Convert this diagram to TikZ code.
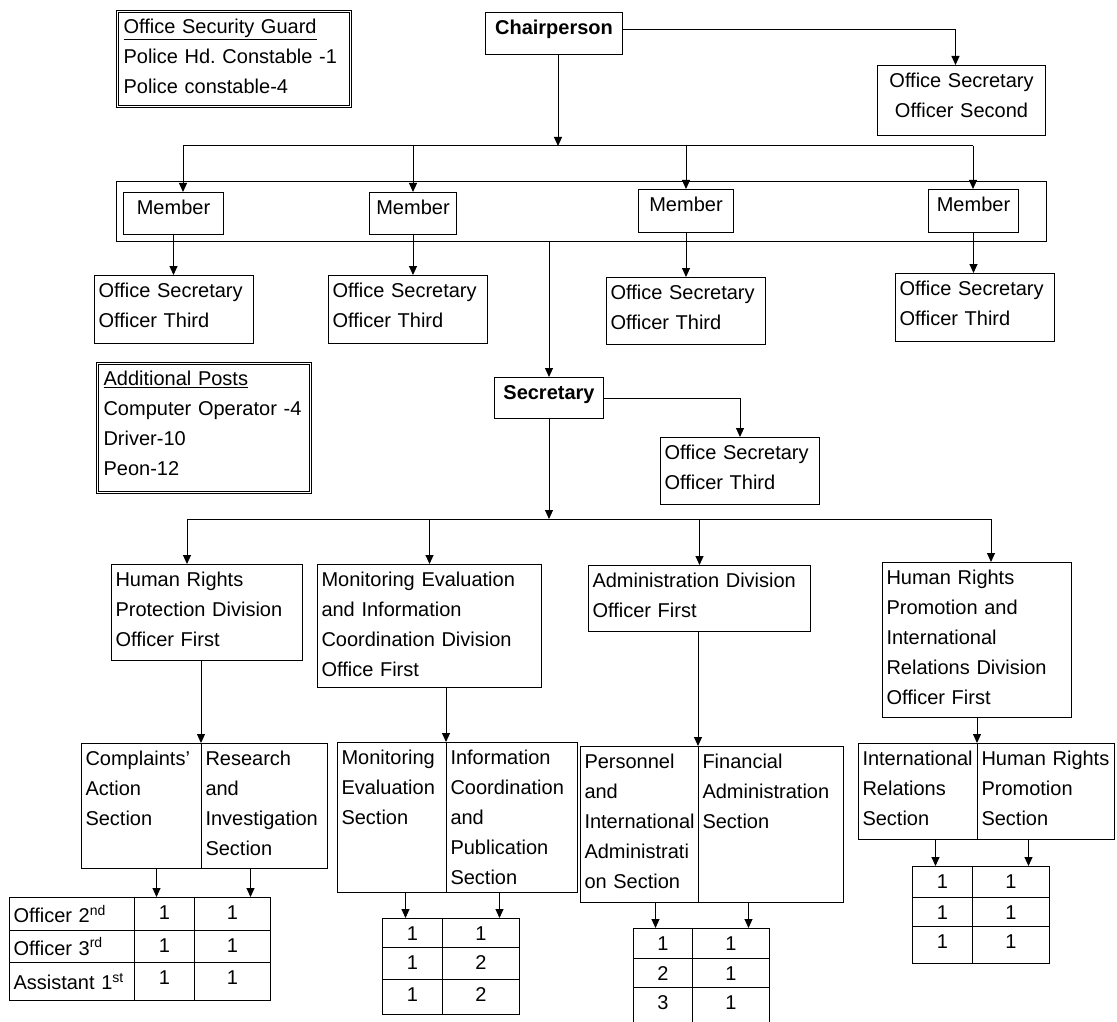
\documentclass[tikz,border=0pt]{standalone}
\usepackage{fontspec}
\setmainfont{Liberation Sans}
\frenchspacing
\usetikzlibrary{arrows.meta}
\tikzset{>={Triangle[length=9pt,width=8pt]}}

\begin{document}
\begin{tikzpicture}[x=1pt, y=-1pt, line width=1pt,
  every node/.style={font=\fontsize{20}{30}\selectfont},
  box/.style={draw, anchor=north west, inner xsep=4pt, inner ysep=0pt, text height=22pt, align=left},
  cbox/.style={box, align=center},
  dbox/.style={draw, double, double distance=1.6pt, line width=1.1pt, anchor=north west, inner xsep=6pt, inner ysep=0pt, text height=22pt, align=left},
  tcell/.style={draw, anchor=north west, inner sep=0pt, text height=22pt, minimum width=#1},
  lcell/.style={draw, anchor=north west, inner xsep=4pt, inner ysep=0pt, align=left}]
\clip (0,0) rectangle (1117,1022);

% side boxes
\node[dbox, text width=221pt, text depth=73pt] (guard) at (117,11) {\underline{Office Security Guard}\\Police Hd. Constable -1\\Police constable-4};
\node[dbox, text width=201pt, text depth=107pt] (extra) at (97,363) {\underline{Additional Posts}\\Computer Operator -4\\Driver-10\\Peon-12};

% chairperson and members
\node[cbox, text width=129pt, text depth=20pt] (chair) at (485,12) {\textbf{Chairperson}};
\node[cbox, text width=160pt, text depth=48pt] (os2) at (877,65) {Office Secretary\\Officer Second};
\node[draw, anchor=north west, inner sep=0pt, minimum width=930pt, minimum height=60pt] (mrow) at (116,181) {};
\node[cbox, text width=92pt, text depth=20pt] (m1) at (123,192) {Member};
\node[cbox, text width=79pt, text depth=20pt] (m2) at (369,192) {Member};
\node[cbox, text width=87pt, text depth=21pt] (m3) at (638,189) {Member};
\node[cbox, text width=82pt, text depth=21pt] (m4) at (928,189) {Member};
\node[box, text width=151pt, text depth=46pt] (os3a) at (94,275) {Office Secretary\\Officer Third};
\node[box, text width=151pt, text depth=46pt] (os3b) at (328,275) {Office Secretary\\Officer Third};
\node[box, text width=151pt, text depth=45pt] (os3c) at (606,277) {Office Secretary\\Officer Third};
\node[box, text width=151pt, text depth=46pt] (os3d) at (895,273) {Office Secretary\\Officer Third};

% secretary
\node[cbox, text width=101pt, text depth=19pt] (sec) at (494,377) {\textbf{Secretary}};
\node[box, text width=151pt, text depth=45pt] (os3e) at (660,437) {Office Secretary\\Officer Third};

% divisions
\node[box, text width=183pt, text depth=74pt] (d1) at (111,564) {Human Rights\\Protection Division\\Officer First};
\node[box, text width=216pt, text depth=101pt] (d2) at (317,564) {Monitoring Evaluation\\and Information\\Coordination Division\\Office First};
\node[box, text width=214pt, text depth=44pt] (d3) at (588,565) {Administration Division\\Officer First};
\node[box, text width=181pt, text depth=133pt] (d4) at (882,562) {Human Rights\\Promotion and\\International\\Relations Division\\Officer First};

% sections
\node[box, text width=112pt, text depth=103pt] (s1a) at (81,743) {Complaints’\\Action\\Section};
\node[box, text width=118pt, text depth=103pt] (s1b) at (201,743) {Research\\and\\Investigation\\Section};
\node[box, text width=101pt, text depth=128pt] (s2a) at (337,742) {Monitoring\\Evaluation\\Section};
\node[box, text width=123pt, text depth=128pt] (s2b) at (446,742) {Information\\Coordination\\and\\Publication\\Section};
\node[box, text width=110pt, text depth=134pt] (s3a) at (580,746) {Personnel\\and\\International\\Administrati\\on Section};
\node[box, text width=137pt, text depth=134pt] (s3b) at (698,746) {Financial\\Administration\\Section};
\node[box, text width=111pt, text depth=74pt] (s4a) at (858,743) {International\\Relations\\Section};
\node[box, text width=129pt, text depth=74pt] (s4b) at (977,743) {Human Rights\\Promotion\\Section};

% post tables
\foreach \y/\h/\r/\a/\b [count=\i, evaluate=\h as \dd using \h-22] in {897/33/Officer 2\textsuperscript{nd}/1/1, 930/32/Officer 3\textsuperscript{rd}/1/1, 962/38/Assistant 1\textsuperscript{st}/1/1} {
  \node[lcell, text width=117pt, minimum height=\h pt] (t1r\i) at (9,\y) {\r};
  \node[tcell=60pt, text depth=\dd pt] (t1a\i) at (134,\y) {\a};
  \node[tcell=76pt, text depth=\dd pt] (t1b\i) at (194,\y) {\b};
}
\foreach \y/\h/\a/\b [count=\i, evaluate=\h as \dd using \h-22] in {918/29/1/1, 947/32/1/2, 979/35/1/2} {
  \node[tcell=60pt, text depth=\dd pt] (t2a\i) at (382,\y) {\a};
  \node[tcell=77pt, text depth=\dd pt] (t2b\i) at (442,\y) {\b};
}
\foreach \y/\h/\a/\b [count=\i, evaluate=\h as \dd using \h-22] in {928/30/1/1, 958/29/2/1, 987/43/3/1} {
  \node[tcell=59pt, text depth=\dd pt] (t3a\i) at (633,\y) {\a};
  \node[tcell=77pt, text depth=\dd pt] (t3b\i) at (692,\y) {\b};
}
\foreach \y/\h/\a/\b [count=\i, evaluate=\h as \dd using \h-22] in {866/31/1/1, 897/29/1/1, 926/37/1/1} {
  \node[tcell=60pt, text depth=\dd pt] (t4a\i) at (912,\y) {\a};
  \node[tcell=77pt, text depth=\dd pt] (t4b\i) at (972,\y) {\b};
}

% connectors
\coordinate (tL) at (183,146);
\coordinate (tC) at (558,146);
\coordinate (tR) at (973,146);
\draw (tL) -- (tR);
\draw[->] (chair.south -| tC) -- (tC);
\draw[->] ([yshift=4pt]chair.east) -| ([xshift=-6pt]os2.north);
\draw[->] (tL) -- (tL |- m1.north);
\draw[->] (m2.north |- tL) -- (m2.north);
\draw[->] (m3.north |- tL) -- (m3.north);
\draw[->] (tR) -- (tR |- m4.north);
\foreach \a/\b in {m1/os3a, m2/os3b, m3/os3c, m4/os3d}
  \draw[->] (\a.south) -- (\a.south |- \b.north);
\draw[->] (sec.north |- mrow.south) -- (sec.north);
\draw[->] (sec.east) -| (os3e.north);

\coordinate (bL) at (187,519);
\coordinate (bR) at (991,519);
\draw (bL) -- (bR);
\draw[->] (sec.south) -- (sec.south |- bL);
\draw[->] (bL) -- (bL |- d1.north);
\draw[->] (d2.north |- bL) -- (d2.north);
\draw[->] (d3.north |- bL) -- (d3.north);
\draw[->] (bR) -- (bR |- d4.north);

\draw[->] (d1.south -| s1b.north west) -- (s1b.north west);
\draw[->] (d2.south -| s2b.north west) -- (s2b.north west);
\draw[->] (d3.south -| s3b.north west) -- (s3b.north west);
\draw[->] (d4.south -| s4b.north west) -- (s4b.north west);

\foreach \s/\dx/\t in {s1a/15/t1a1, s1b/-14/t1b1, s2a/13.5/t2a1, s2b/-12.5/t2b1, s3a/16/t3a1, s3b/-22.5/t3b1, s4a/17.5/t4a1, s4b/-17.5/t4b1}
  \draw[->] ([xshift=\dx pt]\s.south) -- ([xshift=\dx pt]\s.south |- \t.north);
\end{tikzpicture}
\end{document}
